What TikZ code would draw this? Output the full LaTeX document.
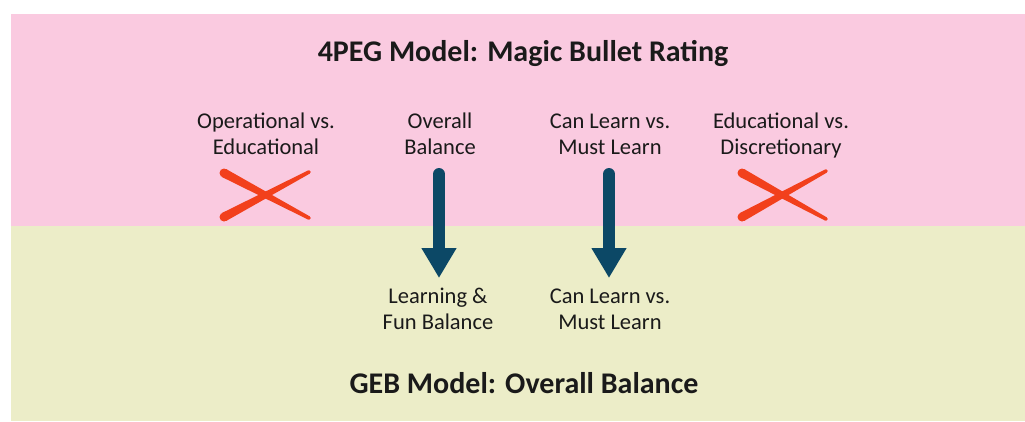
\documentclass[tikz,border=0pt]{standalone}
\usepackage{fontspec}
\setmainfont{Carlito}
\usetikzlibrary{arrows.meta,calc}

\definecolor{bandpink}{RGB}{250,202,224}
\definecolor{bandgreen}{RGB}{236,237,200}
\definecolor{crossred}{RGB}{242,64,28}
\definecolor{arrowteal}{RGB}{12,72,102}
\definecolor{ink}{RGB}{26,26,26}

% tapered brush stroke: thick round end at #1, thin end at #2, half width #3
\newcommand\brushstroke[3]{%
  \fill[crossred] ($(#1)!#3!90:(#2)$) -- ($(#2)!1.8pt!-90:(#1)$)
    -- ($(#2)!1.8pt!90:(#1)$) -- ($(#1)!#3!-90:(#2)$) -- cycle;
  \fill[crossred] (#1) circle (#3);
  \fill[crossred] (#2) circle (1.8pt);
}

\tikzset{
  title/.style={font=\fontsize{30}{34}\selectfont\bfseries, text=ink, inner sep=0pt, anchor=base},
  label/.style={font=\fontsize{22.5}{26}\selectfont, text=ink, inner sep=0pt,
    anchor=north, align=center},
  bigarrow/.style={arrowteal, line width=12pt, line cap=round,
    -{Triangle[width=33pt,length=30pt]}},
}

\begin{document}
\begin{tikzpicture}[x=1pt,y=-1pt]
  \useasboundingbox (0,0) rectangle (1025,421);

  % two bands
  \fill[bandpink] (11,14) rectangle (1025,226);
  \fill[bandgreen] (11,226) rectangle (1025,421);

  % headings
  \node[title] (top) at (523,61) {4PEG Model: Magic Bullet Rating};
  \node[title] (bottom) at (524,393) {GEB Model: Overall Balance};

  % upper row of criteria (first baseline at y = 128)
  \node[label] (opedu) at (266,110) {\strut Operational vs.\\\strut Educational};
  \node[label] (overall) at (440,110) {\strut Overall\\\strut Balance};
  \node[label] (canlearn) at (610,110) {\strut Can Learn vs.\\\strut Must Learn};
  \node[label] (edudisc) at (781,110) {\strut Educational vs.\\\strut Discretionary};

  % lower row (first baseline at y = 303)
  \node[label] (learnfun) at (438,285) {\strut Learning \&\\\strut Fun Balance};
  \node[label] (canlearn2) at (610,285) {\strut Can Learn vs.\\\strut Must Learn};

  % arrows carrying criteria over
  \coordinate (a1s) at (439,174);
  \coordinate (a1e) at (439,278);
  \coordinate (a2s) at (609,174);
  \coordinate (a2e) at (609,278);
  \draw[bigarrow] (a1s) -- (a1e);
  \draw[bigarrow] (a2s) -- (a2e);

  % crosses for dropped criteria
  \coordinate (c1a) at (224,173); \coordinate (c1b) at (309,218);
  \coordinate (c1c) at (224,217); \coordinate (c1d) at (309,172);
  \brushstroke{c1a}{c1b}{4.5pt}
  \brushstroke{c1c}{c1d}{4.5pt}
  \coordinate (c2a) at (742,173); \coordinate (c2b) at (826,219);
  \coordinate (c2c) at (742,217); \coordinate (c2d) at (826,171);
  \brushstroke{c2a}{c2b}{4.5pt}
  \brushstroke{c2c}{c2d}{4.5pt}
\end{tikzpicture}
\end{document}
